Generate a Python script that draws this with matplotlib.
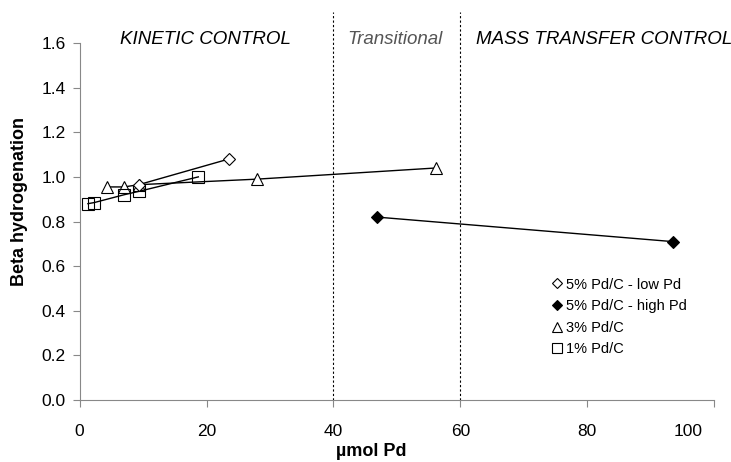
import matplotlib.pyplot as plt
from matplotlib.lines import Line2D
from matplotlib.transforms import ScaledTranslation

plt.rcParams["font.family"] = ["Liberation Sans", "DejaVu Sans"]

# 5% Pd/C - low Pd
low_x = [9.3, 23.5]
low_y = [0.965, 1.08]
# 5% Pd/C - high Pd
high_x = [46.8, 93.5]
high_y = [0.82, 0.71]
# 3% Pd/C
tri_x = [4.3, 7.0, 9.3, 28.0, 56.2]
tri_y = [0.955, 0.955, 0.965, 0.99, 1.04]
# 1% Pd/C
sq_x = [1.3, 2.3, 7.0, 9.3, 18.7]
sq_y = [0.88, 0.885, 0.92, 0.935, 1.0]

region_lines = [40, 60]
region_labels = ["KINETIC CONTROL", "Transitional", "MASS TRANSFER CONTROL"]
region_centers = [19.8, 49.7, 82.7]

fig = plt.figure(figsize=(7.31, 4.62), dpi=100)
ax = fig.add_axes([0.109, 0.134, 0.868, 0.773])

ax.plot(tri_x, tri_y, color="black", lw=1, marker="^", ms=8,
        mfc="white", mec="black", mew=0.8, zorder=3)
ax.plot(sq_x, sq_y, color="black", lw=1, marker="s", ms=8,
        mfc="none", mec="black", mew=0.8, zorder=3)
ax.plot(low_x, low_y, color="black", lw=1, marker="D", ms=6,
        mfc="white", mec="black", mew=0.8, zorder=4)
ax.plot(high_x, high_y, color="black", lw=1, marker="D", ms=6,
        mfc="black", mec="black", mew=0.8, zorder=4)

for xv in region_lines:
    ax.plot([xv, xv], [0, 1.74], color="black", lw=0.8, ls=(0, (2, 2)),
            clip_on=False, zorder=2)

colors = ["black", "#555555", "black"]
for cx, lab, col in zip(region_centers, region_labels, colors):
    ax.text(cx, 1.615, lab, style="italic", fontsize=13.5, ha="center",
            va="center", color=col, clip_on=False)

ax.set_xlim(0, 100)
ax.set_ylim(0, 1.6)
ax.set_xticks([0, 20, 40, 60, 80, 100])
ax.set_yticks([0.0, 0.2, 0.4, 0.6, 0.8, 1.0, 1.2, 1.4, 1.6])
ax.set_yticklabels([f"{v:.1f}" for v in ax.get_yticks()])
ax.tick_params(axis="both", direction="out", length=5, color="#888888",
               labelsize=12.5)
ax.tick_params(axis="y", pad=5)
ax.tick_params(axis="x", pad=12)
for side in ["top", "right"]:
    ax.spines[side].set_visible(False)
for side in ["left", "bottom"]:
    ax.spines[side].set_color("#888888")

# last x label sits inside the chart area, as in the original
last = ax.get_xticklabels()[-1]
last.set_transform(last.get_transform() + ScaledTranslation(-26 / 100, 0, fig.dpi_scale_trans))

ax.set_xlabel("\u00b5mol Pd", fontsize=13, fontweight="bold")
ax.xaxis.set_label_coords(0.459, -0.143)
ax.xaxis.label.set_va("center")
ax.set_ylabel("Beta hydrogenation", fontsize=13, fontweight="bold")
ax.yaxis.set_label_coords(-0.095, 0.555)
ax.yaxis.label.set_va("center")

handles = [
    Line2D([], [], ls="none", marker="D", ms=5, mfc="white", mec="black", mew=0.8),
    Line2D([], [], ls="none", marker="D", ms=5, mfc="black", mec="black", mew=0.8),
    Line2D([], [], ls="none", marker="^", ms=7.5, mfc="white", mec="black", mew=0.8),
    Line2D([], [], ls="none", marker="s", ms=7, mfc="white", mec="black", mew=0.8),
]
labels = ["5% Pd/C - low Pd", "5% Pd/C - high Pd", "3% Pd/C", "1% Pd/C"]
ax.legend(handles, labels, loc="upper left", bbox_to_anchor=(0.724, 0.38),
          frameon=False, fontsize=10.5, handlelength=0.7, handletextpad=0.25,
          labelspacing=0.52)

fig.savefig("out.png", dpi=100)
